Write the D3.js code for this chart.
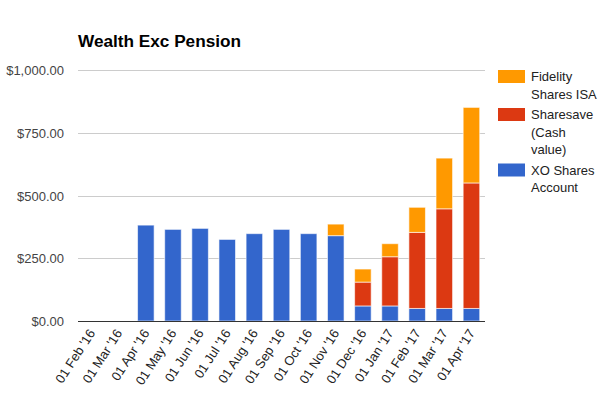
<!DOCTYPE html>
<html><head><meta charset="utf-8">
<script src="https://cdn.jsdelivr.net/npm/d3@7"></script>
<style>body{margin:0;background:#fff}svg{display:block;font-family:"Liberation Sans",Arial,sans-serif}</style>
</head><body><svg id="c" width="605" height="399"></svg>
<script>
const categories = ["01 Feb '16","01 Mar '16","01 Apr '16","01 May '16","01 Jun '16","01 Jul '16","01 Aug '16","01 Sep '16","01 Oct '16","01 Nov '16","01 Dec '16","01 Jan '17","01 Feb '17","01 Mar '17","01 Apr '17"];
const xoShares   = [0,0,382,365,369,325,348,365,348,340,60,60,50,50,50];
const sharesave  = [0,0,0,0,0,0,0,0,0,0,95,196,303,397,500];
const fidelity   = [0,0,0,0,0,0,0,0,0,46,52,52,100,202,301];
const seriesNames = ["XO Shares Account","Sharesave (Cash value)","Fidelity Shares ISA"];
const seriesColors = ["#3366cc","#dc3912","#ff9900"];
const yTicks = [0,250,500,750,1000];
const legendLines = [["Fidelity","Shares ISA"],["Sharesave","(Cash","value)"],["XO Shares","Account"]];

const svg = d3.select("#c");
const m = {l:78, r:485, t:70, b:321};
const x = d3.scaleBand().domain(categories).range([m.l, m.r]).paddingInner(0.39).paddingOuter(0.195);
const y = d3.scaleLinear().domain([0,1000]).range([m.b, m.t]);

svg.append("text").attr("x",78).attr("y",47).attr("font-size",17.2).attr("font-weight","bold").attr("fill","#000").text("Wealth Exc Pension");

// grid
svg.append("g").selectAll("line").data(yTicks.filter(d=>d>0)).join("line")
  .attr("x1",m.l).attr("x2",m.r).attr("y1",d=>Math.round(y(d))+0.5).attr("y2",d=>Math.round(y(d))+0.5)
  .attr("stroke","#cccccc");

const yAxis = d3.axisLeft(y).tickValues(yTicks).tickSize(0).tickPadding(0)
  .tickFormat(d=>"$"+d3.format(",.2f")(d));
const ya = svg.append("g").attr("transform",`translate(64,0)`).call(yAxis);
ya.select(".domain").remove();
ya.selectAll("text").attr("font-size",13).attr("fill","#444").attr("font-family","Liberation Sans, Arial, sans-serif").attr("dy","0.35em");

const data = categories.map((c,i)=>({cat:c, s0:xoShares[i], s1:sharesave[i], s2:fidelity[i]}));
const stack = d3.stack().keys(["s0","s1","s2"])(data);
svg.append("g").selectAll("g").data(stack).join("g").attr("fill",(d,i)=>seriesColors[i])
  .selectAll("rect").data(d=>d.filter(p=>p[1]-p[0]>0)).join("rect")
  .attr("x",d=>x(d.data.cat)).attr("width",x.bandwidth())
  .attr("y",d=>y(d[1])).attr("height",d=>y(d[0])-y(d[1]))
  .attr("stroke","#ffffff").attr("stroke-opacity",0.6).attr("stroke-width",1);

// baseline
svg.append("line").attr("x1",m.l).attr("x2",m.r).attr("y1",m.b+0.5).attr("y2",m.b+0.5).attr("stroke","#333").attr("stroke-width",1);

// x labels
const xAxis = d3.axisBottom(x).tickSize(0).tickPadding(0);
const xa = svg.append("g").attr("transform",`translate(0,${m.b})`).call(xAxis);
xa.select(".domain").remove();
xa.selectAll("text").attr("font-size",13).attr("fill","#222").attr("font-family","Liberation Sans, Arial, sans-serif")
  .attr("text-anchor","end").attr("dy",null).attr("y",0)
  .attr("transform","translate(4,12) rotate(-57)");

// legend
const lg = svg.append("g");
const legendOrder = [2,1,0];
let ly = 70;
legendOrder.forEach((si,k)=>{
  lg.append("rect").attr("x",498).attr("y",ly).attr("width",27).attr("height",13).attr("fill",seriesColors[si]);
  const t = lg.append("text").attr("x",531).attr("y",ly+11).attr("font-size",13).attr("fill","#222");
  legendLines[k].forEach((ln,j)=>t.append("tspan").attr("x",531).attr("dy",j?17.5:0).text(ln));
  ly += legendLines[k].length*17.5 + 3;
});
</script></body></html>
